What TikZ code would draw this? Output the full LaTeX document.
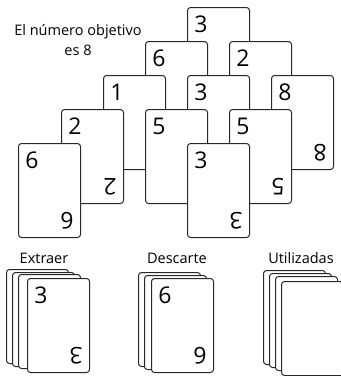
\documentclass[tikz,border=0pt]{standalone}
\usepackage{fontspec}
\setmainfont{Open Sans}
\usepackage{xcolor}
\usepackage{tikz}
\definecolor{edge}{RGB}{40,40,40}

\begin{document}
\begin{tikzpicture}[x=1pt,y=-1pt,
    card/.style={draw=edge,line width=1pt,fill=white,rounded corners=3pt,
      minimum width=62pt,minimum height=94pt,inner sep=0pt,anchor=north west},
    digit/.style={inner sep=0pt,font=\fontsize{23}{23}\selectfont},
    caption/.style={inner sep=0pt,font=\fontsize{14.5}{20}\selectfont,align=center}]
      \clip (0,0) rectangle (341,376);
      % the pyramid, back rows first
      \foreach \x/\y/\n [count=\i] in {187/7/3, 145/41/6, 229/41/2, 103/75/1, 187/75/3,
          271/75/8, 61/109/2, 145/109/5, 229/109/5, 18/143/6, 187/143/3} {
        \node[card] (p\i) at (\x,\y) {};
        \node[digit] (p\i-top) at ([shift={(14,17)}]p\i.north west) {\n};
        \node[digit,rotate=180] (p\i-bot) at ([shift={(-14,-17)}]p\i.south east) {\n};
      }
      \node[caption] (goal) at (78,40) {El número objetivo\\es 8};
      % the three piles
      \node[caption] (draw-lbl) at (44,258) {Extraer};
      \node[caption] (disc-lbl) at (177,258) {Descarte};
      \node[caption] (used-lbl) at (301,258) {Utilizadas};
      \foreach \x/\y [count=\i] in {6/269, 12/272, 18/274, 27/278}
        \node[card] (d\i) at (\x,\y) {};
      \node[digit] (d4-top) at ([shift={(14,17)}]d4.north west) {3};
      \node[digit,rotate=180] (d4-bot) at ([shift={(-14,-17)}]d4.south east) {3};
      \foreach \x/\y [count=\i] in {138/272, 144/275, 151/278}
        \node[card] (s\i) at (\x,\y) {};
      \node[digit] (s3-top) at ([shift={(14,17)}]s3.north west) {6};
      \node[digit,rotate=180] (s3-bot) at ([shift={(-14,-17)}]s3.south east) {6};
      \foreach \x/\y [count=\i] in {263/270, 269/273, 275/276, 281/281}
        \node[card] (u\i) at (\x,\y) {};
    \end{tikzpicture}
\end{document}
